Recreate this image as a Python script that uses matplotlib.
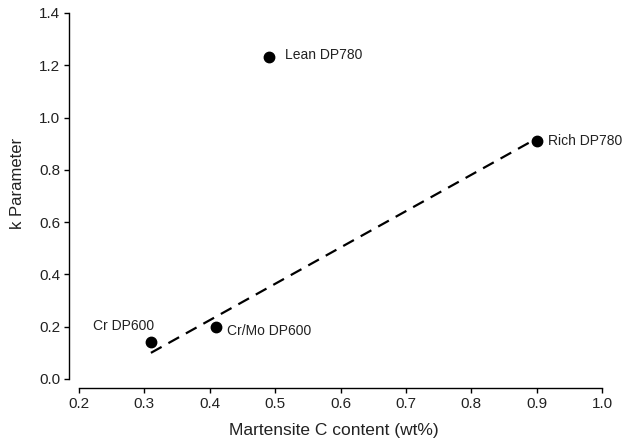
import matplotlib
matplotlib.use("Agg")
import matplotlib.pyplot as plt

plt.rcParams['font.family'] = ['Liberation Sans', 'DejaVu Sans']

labels = ["Cr DP600", "Cr/Mo DP600", "Lean DP780", "Rich DP780"]
c_content = [0.31, 0.41, 0.49, 0.90]
k_param = [0.14, 0.20, 1.23, 0.91]
fit_x = [0.31, 0.90]
fit_y = [0.10, 0.92]
xticks = [0.2, 0.3, 0.4, 0.5, 0.6, 0.7, 0.8, 0.9, 1.0]
yticks = [0.0, 0.2, 0.4, 0.6, 0.8, 1.0, 1.2, 1.4]

W, H = 637, 446
fig = plt.figure(figsize=(W / 100, H / 100), dpi=100)
ax = fig.add_axes([79 / W, 1 - 379 / H, (602 - 79) / W, (379 - 13) / H])

ax.plot(fit_x, fit_y, color='black', lw=1.6, linestyle=(0, (5.5, 3.5)), clip_on=False)
ax.plot(c_content, k_param, 'o', color='black', ms=7.5, clip_on=False, zorder=3)

# label offsets (points)
offsets = {
    "Cr DP600": (2, 12, 'right'),
    "Cr/Mo DP600": (8, -3, 'left'),
    "Lean DP780": (12, 2, 'left'),
    "Rich DP780": (8, 0, 'left'),
}
for lab, x, y in zip(labels, c_content, k_param):
    dx, dy, ha = offsets[lab]
    ax.annotate(lab, (x, y), xytext=(dx, dy), textcoords='offset points',
                ha=ha, va='center', fontsize=10, color='#222222')

ax.set_xlim(0.2, 1.0)
ax.set_ylim(0.0, 1.4)
ax.set_xticks(xticks)
ax.set_yticks(yticks)
ax.set_xticklabels([f"{v:.1f}" for v in xticks])
ax.set_yticklabels([f"{v:.1f}" for v in yticks])

for s in ['top', 'right']:
    ax.spines[s].set_visible(False)
ax.spines['left'].set_position(('outward', 7))
ax.spines['bottom'].set_position(('outward', 6.5))
ax.tick_params(direction='out', length=3.5, width=1, labelsize=11, pad=3,
               labelcolor='#222222')
for s in ['left', 'bottom']:
    ax.spines[s].set_linewidth(1)

ax.set_xlabel("Martensite C content (wt%)", fontsize=12.5, color='#222222')
ax.set_ylabel("k Parameter", fontsize=12, color='#222222')
ax.xaxis.set_label_coords((334 - 79) / 523, (379 - 431) / 366)
ax.yaxis.set_label_coords((17.5 - 79) / 523, (379 - 183) / 366)
ax.xaxis.label.set_va('center')
ax.yaxis.label.set_va('center')

fig.savefig("out.png", dpi=100)
